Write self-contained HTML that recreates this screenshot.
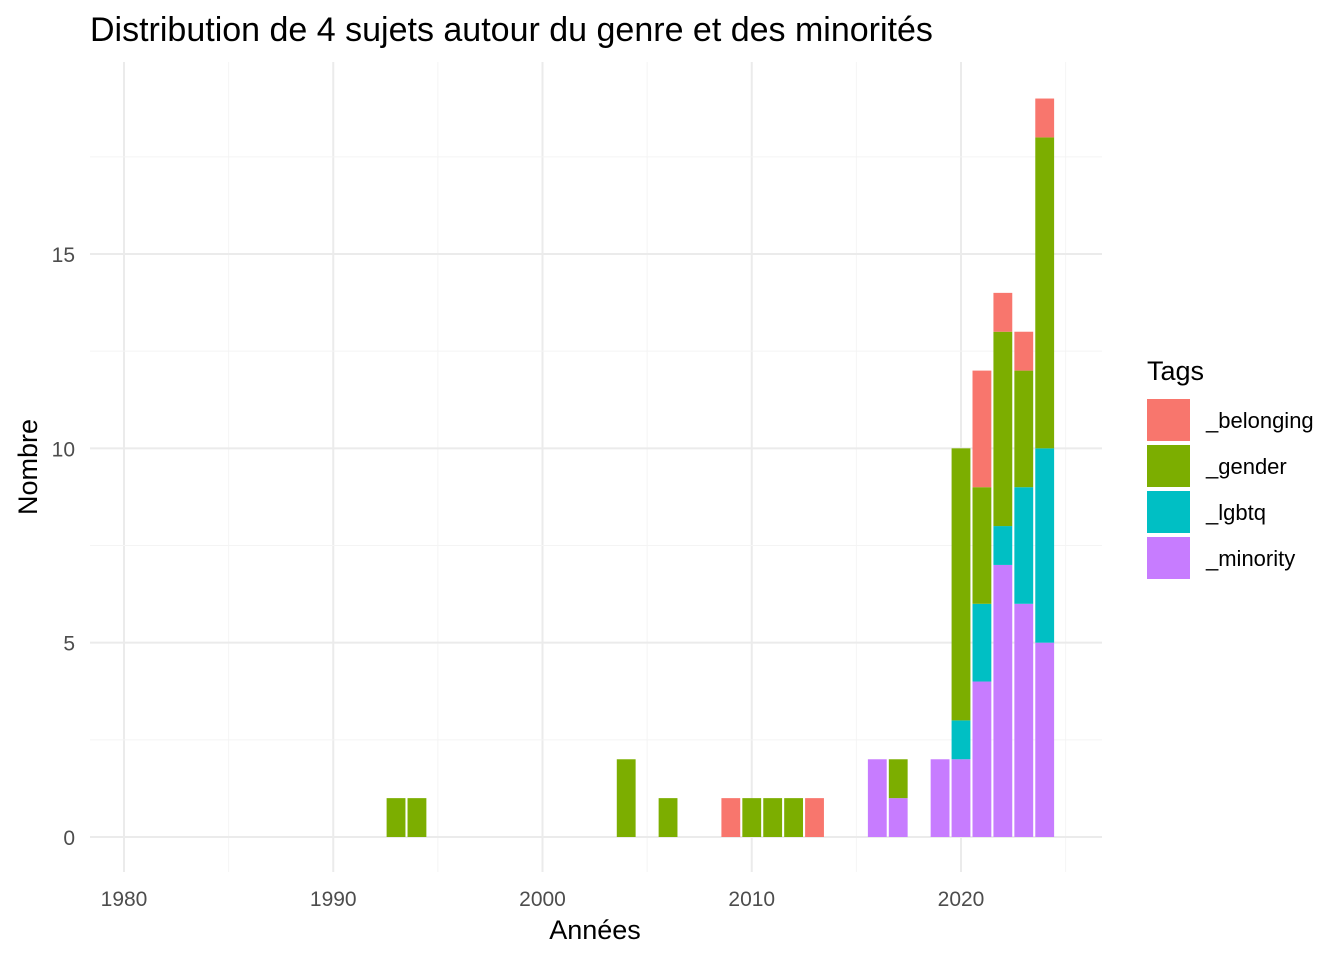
<!DOCTYPE html>
<html><head><meta charset="utf-8"><style>
body{margin:0;background:#fff;font-family:"Liberation Sans",Arial,sans-serif}
</style></head><body>
<svg id="chart" width="1344" height="960" xmlns="http://www.w3.org/2000/svg">
<text x="90" y="41" font-size="34" fill="#000">Distribution de 4 sujets autour du genre et des minorités</text>
<g id="grid"></g>
<g id="bars"></g>
<g id="axes"></g>
<text x="595" y="939" font-size="27" text-anchor="middle">Années</text>
<text transform="translate(37,467) rotate(-90)" font-size="27" text-anchor="middle">Nombre</text>
<g id="legend"></g>
</svg>
<script>
const years=[1993,1994,2004,2006,2009,2010,2011,2012,2013,2016,2017,2019,2020,2021,2022,2023,2024];
const minority=[0,0,0,0,0,0,0,0,0,2,1,2,2,4,7,6,5];
const lgbtq=[0,0,0,0,0,0,0,0,0,0,0,0,1,2,1,3,5];
const gender=[1,1,2,1,0,1,1,1,0,0,1,0,7,3,5,3,8];
const belonging=[0,0,0,0,1,0,0,0,1,0,0,0,0,3,1,1,1];
const xTicks=[1980,1990,2000,2010,2020];
const yTicks=[0,5,10,15];
const tags=["_belonging","_gender","_lgbtq","_minority"];
const colors=["#F8766D","#7CAE00","#00BFC4","#C77CFF"];
const NS="http://www.w3.org/2000/svg";
const X=v=>124+(v-1980)*(961-124)/40;
const Y=v=>837-v*(837-254)/15;
const L=90,R=1102,T=62,B=872;
function mk(tag,attrs,parent){const e=document.createElementNS(NS,tag);for(const k in attrs)e.setAttribute(k,attrs[k]);parent.appendChild(e);return e;}
const grid=document.getElementById('grid');
for(let v=1975;v<=2025;v+=5){const maj=v%10===0;if(X(v)<L||X(v)>R)continue;
const l=mk('line',{x1:X(v),x2:X(v),y1:T,y2:B,stroke:maj?'#EBEBEB':'#F4F4F4','stroke-width':maj?2:1},grid);

}
for(let v=0;v<=20;v+=2.5){const maj=v%5===0;if(Y(v)<T)continue;
const l=mk('line',{x1:L,x2:R,y1:Y(v),y2:Y(v),stroke:maj?'#EBEBEB':'#F4F4F4','stroke-width':maj?2:1},grid);

}
const bars=document.getElementById('bars');
const series=[minority,lgbtq,gender,belonging];const sc=[colors[3],colors[2],colors[1],colors[0]];const sn=["minority","lgbtq","gender","belonging"];
const bw=0.9*(X(1)-X(0));
years.forEach((yr,i)=>{let base=0;series.forEach((s,j)=>{if(s[i]>0){
const r=mk('rect',{x:X(yr)-bw/2,y:Y(base+s[i]),width:bw,height:Y(base)-Y(base+s[i]),fill:sc[j]},bars);


base+=s[i];}});});
const axes=document.getElementById('axes');
xTicks.forEach(v=>{const t=mk('text',{x:X(v),y:906,'font-size':21,'text-anchor':'middle',fill:'#4D4D4D'},axes);t.textContent=v;

});
yTicks.forEach(v=>{const t=mk('text',{x:75,y:Y(v)+8,'font-size':21,'text-anchor':'end',fill:'#4D4D4D'},axes);t.textContent=v;

});
const lg=document.getElementById('legend');
const lt=mk('text',{x:1147,y:380,'font-size':27},lg);lt.textContent="Tags";


tags.forEach((t,i)=>{const y0=399+i*46;
const r=mk('rect',{x:1147,y:y0,width:43,height:42,fill:colors[i]},lg);


const tx=mk('text',{x:1206,y:y0+29,'font-size':22},lg);tx.textContent=t;

});
</script>
</body></html>
